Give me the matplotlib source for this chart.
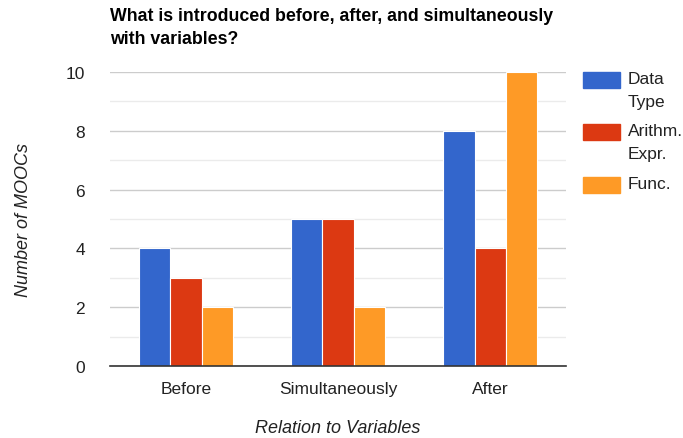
import matplotlib
matplotlib.use("Agg")
import matplotlib.pyplot as plt
import numpy as np
from matplotlib.patches import Rectangle

plt.rcParams['font.family'] = ['Liberation Sans', 'DejaVu Sans']

# counts of MOOCs per relation group
groups = ["Before", "Simultaneously", "After"]
series = ["Data\nType", "Arithm.\nExpr.", "Func."]
data_type = [4, 5, 8]
arith_expr = [3, 5, 4]
func = [2, 2, 10]
colors = ["#3366cc", "#dc3912", "#fe9a26"]

values = [data_type, arith_expr, func]

fig = plt.figure(figsize=(6.83, 4.39), dpi=100)
ax = fig.add_axes([0.161, 0.164, 0.668, 0.670])

x = np.arange(len(groups))
w = 0.205
for i, (vals, c) in enumerate(zip(values, colors)):
    ax.bar(x + (i - 1) * w, vals, width=w, color=c, edgecolor="white",
           linewidth=0.8, zorder=3)

ax.set_xlim(-0.5, 2.5)
ax.set_ylim(0, 10)
ax.set_yticks([0, 2, 4, 6, 8, 10])
ax.set_yticks([1, 3, 5, 7, 9], minor=True)
ax.grid(axis="y", which="major", color="#cccccc", linewidth=1, zorder=0)
ax.grid(axis="y", which="minor", color="#ebebeb", linewidth=1, zorder=0)
ax.set_xticks(x)
ax.set_xticklabels(groups)
ax.tick_params(axis="both", which="both", length=0, labelsize=12.5,
               colors="#222222")
ax.tick_params(axis="x", pad=11)
ax.tick_params(axis="y", pad=18)
for s in ["top", "right", "left"]:
    ax.spines[s].set_visible(False)
ax.spines["bottom"].set_color("#333333")
ax.spines["bottom"].set_linewidth(1.2)
ax.spines["bottom"].set_zorder(4)

ax.set_xlabel("Relation to Variables", fontsize=13, style="italic",
              color="#222222", labelpad=16)
ax.set_ylabel("Number of MOOCs", fontsize=13, style="italic",
              color="#222222", labelpad=24)

fig.text(0.161, 1 - 8 / 439, "What is introduced before, after, and simultaneously\nwith variables?",
         fontsize=12.8, fontweight="bold", va="top", ha="left",
         linespacing=1.45, color="#000000")

# legend drawn by hand so the swatch sits on the first text line
W, H = 683.0, 439.0
legend_tops = [73, 125, 178]
for name, c, top in zip(series, colors, legend_tops):
    fig.patches.append(Rectangle((583 / W, 1 - (top + 16) / H), 37 / W, 16 / H,
                                 transform=fig.transFigure, color=c))
    fig.text(628 / W, 1 - (top - 1) / H, name, fontsize=12.5, va="top",
             ha="left", color="#222222", linespacing=1.7)

fig.savefig("out.png", dpi=100)
